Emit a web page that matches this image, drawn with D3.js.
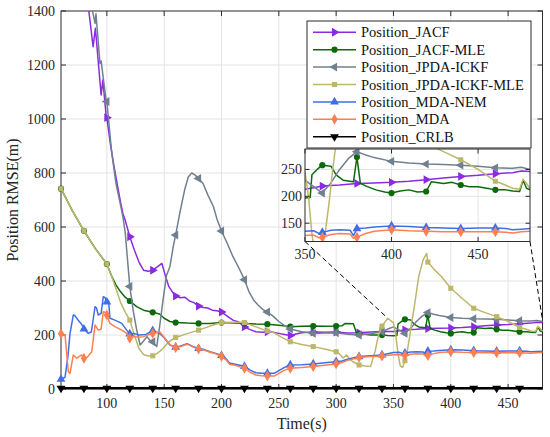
<!DOCTYPE html>
<html>
<head>
<meta charset="utf-8">
<script src="https://cdn.jsdelivr.net/npm/d3@7"></script>
<style>
  body { margin: 0; background: #fff; }
  svg { display: block; }
  text { font-family: 'Liberation Serif'; }
</style>
</head>
<body>
<script>
// values: [time (s), position RMSE (m)]
const jacf = [[84,1410],[88,1268],[90,1336],[95,1089],[96.5,1144],[99.5,1008],[100,1005],[103,910],[106,830],[109,760],
  [112,690],[114,650],[116,625],[118,595],[120,564],[124,515],[128,470],[132,440],[136,436],[140,440],[144,452],[148,465],
  [151,420],[154,380],[158,354],[160,344],[164,338],[168,340],[172,326],[176,320],[180,307],[184,302],[188,300],[192,292],
  [196,290],[200,285],[205,270],[210,255],[215,248],[220,230],[225,220],[230,212],[236,210],[240,212],[245,210],[250,206],
  [255,202],[260,198],[265,204],[270,208],[275,210],[280,211],[290,210],[300,211],[310,207],[320,208],[330,211],[340,213],
  [350,213],[355,216],[360,219],[370,221],[380,224],[390,225],[400,226],[410,228],[420,231],[430,234],[440,237],[450,239],
  [460,242],[470,244],[475,247],[480,246]]
const jacfMle = [[60,742],[70,660],[80,586],[90,520],[100,463],[104,420],[108,385],[112,360],[116,340],[120,326],[126,305],
  [132,292],[140,284],[146,278],[150,262],[155,250],[160,246],[170,244],[180,243],[190,243],[200,246],[210,244],[220,243],
  [230,241],[240,240],[250,236],[260,231],[270,232],[280,233],[290,232],[300,233],[305,234],[308,243],[315,242],[318,205],
  [320,203],[325,203],[330,200],[340,200],[345,198],[350,197],[353,198],[354,240],[357,250],[360,258],[365,256],[368,240],
  [372,230],[378,227],[380,273],[382,224],[386,218],[391,212],[396,208],[400,206],[405,210],[410,212],[415,208],[420,209],
  [423,227],[430,224],[435,226],[440,221],[445,218],[450,218],[455,215],[460,212],[466,212],[470,210],[474,209],[476,230],
  [478,215],[480,212]]
const jpdaIckf = [[87,1410],[89.7,1354],[90.5,1390],[94,1206],[95,1215],[99.3,1070],[100,1065],[104,885],[108,760],[112,680],
  [114,637],[116,580],[118,480],[120,380],[123,290],[126,219],[129,163],[132,178],[135,194],[138,178],[140,175],[143.5,157],
  [146,230],[149,330],[152,420],[155,453],[158,530],[160,570],[164,660],[168,740],[171,785],[174,800],[177,792],[180,780],
  [184,760],[188,720],[193,675],[196,630],[200,585],[205,540],[210,490],[215,450],[220,405],[224,360],[228,330],[232,310],
  [236,295],[240,285],[245,270],[250,250],[255,235],[260,222],[270,212],[280,206],[290,207],[300,208],[310,203],[320,200],
  [330,205],[340,212],[345,222],[350,230],[355,218],[360,206],[365,225],[370,250],[375,270],[380,283],[385,277],[390,272],
  [400,265],[410,262],[420,260],[430,259],[440,258],[450,256],[460,253],[470,252],[475,254],[480,250]]
const jpdaIckfMle = [[60,742],[70,660],[80,586],[90,520],[100,463],[104,420],[108,370],[112,320],[116,285],[120,255],
  [124,200],[128,150],[132,128],[136,122],[140,123],[144,132],[149,150],[154,175],[160,191],[170,205],[180,218],[190,233],
  [200,246],[210,247],[220,246],[230,230],[240,215],[246,208],[253,190],[260,175],[270,165],[280,157],[290,148],[300,138],
  [303,130],[306,115],[309,126],[312,110],[315,100],[320,89],[325,85],[330,83],[334,140],[337,200],[340,233],[345,262],
  [350,245],[352,200],[354,130],[356,85],[358,80],[360,105],[362,140],[364,190],[366,250],[368,300],[372,416],[376,480],
  [379,502],[380,470],[385,445],[392,416],[400,373],[410,335],[420,299],[430,283],[440,268],[450,250],[456,237],[460,228],
  [465,222],[470,215],[474,213],[476,232],[478,224],[480,214]]
const mdaNem = [[59,33],[60,36],[63.5,43],[66,120],[67.9,206],[70.7,274],[72,272],[75,255],[78,240],[80,222],[83.8,206],
  [86.5,212],[89.7,305],[91,300],[92.5,274],[95,280],[96.9,342],[98.5,338],[100,322],[101.5,326],[102.7,262],[107,255],
  [113,243],[117.3,218],[120,204],[123,206],[128,200],[134,202],[140,216],[146,206],[150,190],[155,163],[160,155],[165,160],
  [170,168],[175,158],[180,150],[185,146],[190,138],[195,132],[200,124],[204,112],[207,96],[212,92],[216,88],[220,84],
  [225,70],[230,60],[235,58],[240,58],[246,58],[250,68],[255,80],[260,89],[270,90],[280,93],[290,97],[300,101],[305,104],
  [310,110],[320,120],[330,123],[340,126],[350,135],[355,136],[358,131],[360,133],[365,137],[370,138],[376,137],[378,127],
  [380,140],[385,141],[390,143],[400,145],[410,144],[420,142],[430,141],[440,140],[450,141],[460,141],[466,140],[470,138],
  [475,139],[480,140]]
const mda = [[60,205],[63.5,200],[66.4,64],[67.9,58],[70.7,126],[73.7,114],[78,126],[80,114],[83,118],[86.8,138],[89.7,237],
  [92.5,218],[95,222],[96.9,286],[98.5,284],[100,274],[102.7,243],[107,231],[113,218],[117.3,206],[120,188],[123,194],
  [128,192],[132,194],[140,206],[146,212],[150,192],[155,163],[160,153],[165,158],[170,166],[175,156],[180,148],[185,144],
  [190,136],[195,130],[200,121],[204,108],[207,92],[212,88],[216,82],[220,77],[225,62],[230,52],[235,49],[240,48],[246,48],
  [250,58],[255,70],[260,77],[270,80],[280,83],[290,88],[300,93],[305,98],[310,106],[320,117],[330,120],[340,122],[350,127],
  [355,128],[358,123],[360,124],[365,129],[370,131],[376,130],[378,122],[380,124],[385,131],[390,135],[400,138],[410,136],
  [420,135],[430,134],[440,134],[450,134],[460,134],[466,133],[470,132],[475,134],[480,135]]
const crlb = [[60,3],[80,3],[100,3],[120,3],[140,3],[160,3],[180,3],[200,3],[220,3],[240,3],[260,3],[280,3],[300,3],
  [320,3],[340,3],[360,3],[380,3],[400,3],[420,3],[440,3],[460,3],[480,3]]

const seriesNames = ["Position_JACF", "Position_JACF-MLE", "Position_JPDA-ICKF", "Position_JPDA-ICKF-MLE",
  "Position_MDA-NEM", "Position_MDA", "Position_CRLB"]
const seriesData = [jacf, jacfMle, jpdaIckf, jpdaIckfMle, mdaNem, mda, crlb]
const seriesColors = ["#8a2be2", "#0b6b0b", "#708090", "#bdb76b", "#3f6ee6", "#ff7f50", "#000000"]

const yTicks = [0, 200, 400, 600, 800, 1000, 1200, 1400]
const xTicks = [100, 150, 200, 250, 300, 350, 400, 450]
const insetXTicks = [350, 400, 450]
const insetYTicks = [150, 200, 250]
const insetDomainX = [350, 480]
const insetDomainY = [116, 288]
// where the dashed zoom lines land on the main axes
const zoomAnchors = [[344, 266], [480, 256]]

const SERIF = 'Liberation Serif'
const W = 550, H = 437
const svg = d3.select('body').append('svg').attr('width', W).attr('height', H)

const x = d3.scaleLinear().domain([60, 480]).range([61, 542.5])
const y = d3.scaleLinear().domain([0, 1400]).range([389, 11])

const symbolFor = [
  {type: d3.symbolTriangle, rot: 90, size: 34},
  {type: d3.symbolCircle, rot: 0, size: 30},
  {type: d3.symbolTriangle, rot: -90, size: 34},
  {type: d3.symbolSquare, rot: 0, size: 26},
  {type: d3.symbolTriangle, rot: 0, size: 34},
  {type: d3.symbolDiamond, rot: 0, size: 34},
  {type: d3.symbolTriangle, rot: 180, size: 34}
]
const isMarker = d => d[0] % 20 === 0 && d[0] >= 60 && d[0] <= 460

function label(sel, size) {
  return sel.attr('font-family', SERIF).style('font-family', SERIF)
    .attr('font-size', size).attr('fill', '#262626')
}

function drawSeries(g, sx, sy, clipId) {
  const line = d3.line().x(d => sx(d[0])).y(d => sy(d[1]))
  const lay = g.append('g').attr('clip-path', `url(#${clipId})`)
  seriesData.forEach((data, i) => {
    lay.append('path')
      .datum(data)
      .attr('d', line)
      .attr('fill', 'none')
      .attr('stroke', seriesColors[i])
      .attr('stroke-width', i === 6 ? 2.2 : 1.5)
      .attr('stroke-linejoin', 'round')
    const s = symbolFor[i]
    lay.selectAll(null)
      .data(data.filter(isMarker))
      .enter()
      .append('path')
      .attr('d', d3.symbol().type(s.type).size(s.size))
      .attr('transform', d => `translate(${sx(d[0])},${sy(d[1])}) rotate(${s.rot})`)
      .attr('fill', seriesColors[i])
  })
}

// main plot: clip only the top so the bottom markers stay whole
svg.append('clipPath').attr('id', 'mainClip')
  .append('rect').attr('x', 50).attr('y', 11).attr('width', 500).attr('height', 390)

const grid = svg.append('g').attr('stroke', '#e3e3e3').attr('stroke-width', 1)
grid.selectAll(null).data(xTicks).enter().append('line')
  .attr('x1', d => x(d)).attr('x2', d => x(d)).attr('y1', 11).attr('y2', 389)
grid.selectAll(null).data(yTicks.slice(1, -1)).enter().append('line')
  .attr('y1', d => y(d)).attr('y2', d => y(d)).attr('x1', 61).attr('x2', 542.5)

const frame = svg.append('g').attr('stroke', '#2b2b2b').attr('stroke-width', 1)
frame.append('rect').attr('x', 61).attr('y', 11).attr('width', 481.5).attr('height', 378).attr('fill', 'none')
frame.selectAll(null).data(xTicks).enter().append('line')
  .attr('x1', d => x(d)).attr('x2', d => x(d)).attr('y1', 389).attr('y2', 384)
frame.selectAll(null).data(xTicks).enter().append('line')
  .attr('x1', d => x(d)).attr('x2', d => x(d)).attr('y1', 11).attr('y2', 16)
frame.selectAll(null).data(yTicks).enter().append('line')
  .attr('y1', d => y(d)).attr('y2', d => y(d)).attr('x1', 61).attr('x2', 66)
frame.selectAll(null).data(yTicks).enter().append('line')
  .attr('y1', d => y(d)).attr('y2', d => y(d)).attr('x1', 542.5).attr('x2', 537.5)

drawSeries(svg, x, y, 'mainClip')

label(svg.selectAll(null).data(yTicks).enter().append('text'), 14)
  .attr('x', 55).attr('y', d => y(d)).attr('dy', '0.35em')
  .attr('text-anchor', 'end')
  .text(d => d)
label(svg.selectAll(null).data(xTicks).enter().append('text'), 14)
  .attr('x', d => x(d)).attr('y', 408)
  .attr('text-anchor', 'middle')
  .text(d => d)

label(svg.append('text'), 16)
  .attr('x', x(270)).attr('y', 429)
  .attr('text-anchor', 'middle')
  .text('Time(s)')
label(svg.append('text'), 16)
  .attr('transform', `translate(18, ${y(700)}) rotate(-90)`)
  .attr('text-anchor', 'middle')
  .text('Position RMSE(m)')

// inset
const ix = d3.scaleLinear().domain(insetDomainX).range([305, 530])
const iy = d3.scaleLinear().domain(insetDomainY).range([241.5, 149])

const dash = svg.append('g').attr('stroke', '#000').attr('stroke-width', 1).attr('stroke-dasharray', '5,3')
dash.append('line').attr('x1', 305).attr('y1', 241.5)
  .attr('x2', x(zoomAnchors[0][0])).attr('y2', y(zoomAnchors[0][1]))
dash.append('line').attr('x1', 530).attr('y1', 241.5)
  .attr('x2', x(zoomAnchors[1][0])).attr('y2', y(zoomAnchors[1][1]))

const inset = svg.append('g')
inset.append('rect').attr('x', 305).attr('y', 149).attr('width', 225).attr('height', 92.5).attr('fill', '#fff')
svg.append('clipPath').attr('id', 'insetClip')
  .append('rect').attr('x', 305).attr('y', 149).attr('width', 225).attr('height', 92.5)
const igrid = inset.append('g').attr('stroke', '#e3e3e3').attr('stroke-width', 1)
igrid.selectAll(null).data(insetXTicks.slice(1)).enter().append('line')
  .attr('x1', d => ix(d)).attr('x2', d => ix(d)).attr('y1', 149).attr('y2', 241.5)
igrid.selectAll(null).data(insetYTicks).enter().append('line')
  .attr('y1', d => iy(d)).attr('y2', d => iy(d)).attr('x1', 305).attr('x2', 530)

drawSeries(inset, ix, iy, 'insetClip')

const iframe = inset.append('g').attr('stroke', '#2b2b2b').attr('stroke-width', 1)
iframe.append('rect').attr('x', 305).attr('y', 149).attr('width', 225).attr('height', 92.5).attr('fill', 'none')
iframe.selectAll(null).data(insetXTicks).enter().append('line')
  .attr('x1', d => ix(d)).attr('x2', d => ix(d)).attr('y1', 241.5).attr('y2', 237)
iframe.selectAll(null).data(insetXTicks).enter().append('line')
  .attr('x1', d => ix(d)).attr('x2', d => ix(d)).attr('y1', 149).attr('y2', 153.5)
iframe.selectAll(null).data(insetYTicks).enter().append('line')
  .attr('y1', d => iy(d)).attr('y2', d => iy(d)).attr('x1', 305).attr('x2', 309.5)
iframe.selectAll(null).data(insetYTicks).enter().append('line')
  .attr('y1', d => iy(d)).attr('y2', d => iy(d)).attr('x1', 530).attr('x2', 525.5)

label(inset.selectAll(null).data(insetXTicks).enter().append('text'), 14)
  .attr('x', d => ix(d)).attr('y', 259)
  .attr('text-anchor', 'middle')
  .text(d => d)
label(inset.selectAll(null).data(insetYTicks).enter().append('text'), 14)
  .attr('x', 302).attr('y', d => iy(d)).attr('dy', '0.35em')
  .attr('text-anchor', 'end')
  .text(d => d)

// legend
const legend = svg.append('g')
legend.append('rect').attr('x', 307).attr('y', 21).attr('width', 224).attr('height', 127)
  .attr('fill', '#fff').attr('stroke', '#2b2b2b').attr('stroke-width', 1)
seriesNames.forEach((name, i) => {
  const ly = 32.3 + i * 17.4
  legend.append('line').attr('x1', 313).attr('x2', 356).attr('y1', ly).attr('y2', ly)
    .attr('stroke', seriesColors[i]).attr('stroke-width', 1.5)
  const s = symbolFor[i]
  legend.append('path')
    .attr('d', d3.symbol().type(s.type).size(s.size))
    .attr('transform', `translate(334.5,${ly}) rotate(${s.rot})`)
    .attr('fill', seriesColors[i])
  label(legend.append('text'), 14.5)
    .attr('x', 361).attr('y', ly).attr('dy', '0.35em')
    .attr('fill', '#111')
    .text(name)
})
</script>
</body>
</html>
